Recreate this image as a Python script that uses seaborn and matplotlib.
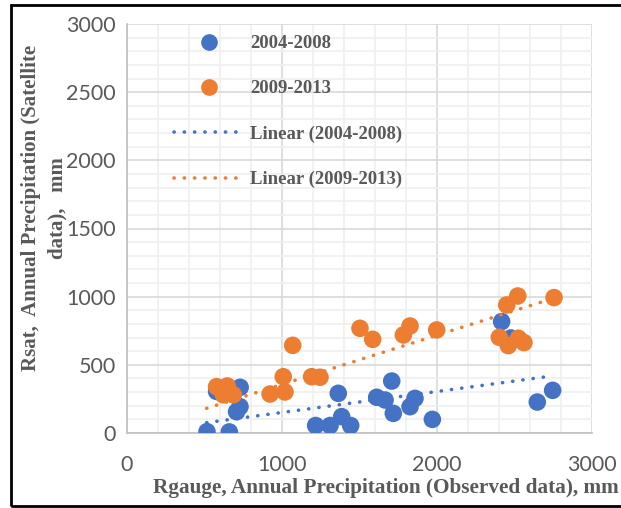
import numpy as np
import pandas as pd
import matplotlib
matplotlib.use("Agg")
import matplotlib.pyplot as plt
import seaborn as sns
from matplotlib.lines import Line2D
from matplotlib.patches import Rectangle
from matplotlib.ticker import MultipleLocator

# 2004-2008 (blue)
gauge_0408 = [516, 660, 578, 730, 729, 707, 1217, 1310, 1385, 1443, 1363,
              1708, 1611, 1665, 1718, 1826, 1858, 1970, 2417, 2477, 2647, 2746]
sat_0408 = [10, 8, 305, 335, 193, 156, 55, 55, 120, 55, 291,
            381, 262, 242, 144, 193, 254, 100, 817, 697, 227, 313]
# 2009-2013 (orange)
gauge_0913 = [578, 647, 622, 686, 660, 923, 1008, 1019, 1069, 1191, 1245,
              1503, 1585, 1783, 1826, 1998, 2402, 2450, 2460, 2521, 2525, 2561, 2755]
sat_0913 = [340, 345, 280, 280, 300, 286, 413, 301, 643, 413, 409,
            768, 687, 719, 785, 756, 702, 939, 641, 1005, 695, 663, 993]

# linear trend lines (start / end)
trend_x_0408 = [514, 2740]
trend_y_0408 = [76, 418]
trend_x_0913 = [514, 2703]
trend_y_0913 = [181, 971]

periods = ["2004-2008", "2009-2013"]
colors = {"2004-2008": "#4472C4", "2009-2013": "#ED7D31"}

df = pd.concat([
    pd.DataFrame({"Rgauge": gauge_0408, "Rsat": sat_0408, "Period": periods[0]}),
    pd.DataFrame({"Rgauge": gauge_0913, "Rsat": sat_0913, "Period": periods[1]}),
])
trend = pd.concat([
    pd.DataFrame({"Rgauge": trend_x_0408, "Rsat": trend_y_0408, "Period": periods[0]}),
    pd.DataFrame({"Rgauge": trend_x_0913, "Rsat": trend_y_0913, "Period": periods[1]}),
])

sns.set_style("white")
W, H = 621, 508
fig = plt.figure(figsize=(W / 100, H / 100), dpi=100)
ax = fig.add_axes([127 / W, 1 - 433 / H, (592 - 127) / W, (433 - 24) / H])

grey = "#595959"
dots = (0, (0.05, 2.8))
ax.xaxis.set_major_locator(MultipleLocator(1000))
ax.xaxis.set_minor_locator(MultipleLocator(200))
ax.yaxis.set_major_locator(MultipleLocator(500))
ax.yaxis.set_minor_locator(MultipleLocator(100))
ax.grid(which="minor", color="#EFEFEF", lw=1.2, zorder=0)
ax.grid(which="major", color="#D9D9D9", lw=1.2, zorder=0)
ax.set_axisbelow(True)

sns.scatterplot(data=df, x="Rgauge", y="Rsat", hue="Period", palette=colors,
                s=160, edgecolor="none", alpha=1, ax=ax, legend=False, zorder=3)
sns.lineplot(data=trend, x="Rgauge", y="Rsat", hue="Period", palette=colors,
             lw=2.6, linestyle=dots, dash_capstyle="round", ax=ax, legend=False,
             zorder=4, estimator=None, sort=False)

ax.set_xlim(0, 3000)
ax.set_ylim(0, 3000)
for s in ["top", "right"]:
    ax.spines[s].set_visible(False)
for s in ["left", "bottom"]:
    ax.spines[s].set_color("#BFBFBF")
    ax.spines[s].set_linewidth(1.2)
ax.tick_params(which="major", length=5, width=1.2, color="#BFBFBF", direction="out",
               labelsize=15.5, labelcolor=grey, pad=3)
ax.tick_params(which="minor", length=0)
for lab in ax.get_xticklabels() + ax.get_yticklabels():
    lab.set_fontfamily("Lato")
ax.tick_params(axis="x", pad=11)
ax.set_xlabel("")
ax.set_ylabel("")

fig.text(386 / W, 1 - 488 / H, "Rgauge, Annual Precipitation (Observed data), mm",
         ha="center", va="center", fontsize=15.3, fontweight="bold",
         family="Liberation Serif", color=grey)
fig.text(44 / W, 1 - 208 / H, "Rsat,  Annual Precipitation (Satellite\ndata),   mm",
         ha="center", va="center", rotation=90, multialignment="center",
         fontsize=15, fontweight="bold", family="Liberation Serif", color=grey,
         linespacing=1.4)

handles = [
    Line2D([], [], ls="none", marker="o", ms=11, color=colors[periods[0]]),
    Line2D([], [], ls="none", marker="o", ms=11, color=colors[periods[1]]),
    Line2D([], [], color=colors[periods[0]], lw=2.6, linestyle=dots,
           dash_capstyle="round"),
    Line2D([], [], color=colors[periods[1]], lw=2.6, linestyle=dots,
           dash_capstyle="round"),
]
labels = periods + ["Linear (2004-2008)", "Linear (2009-2013)"]
fig.legend(handles, labels, loc="upper left", bbox_to_anchor=(174 / W, 1 - 35 / H),
           frameon=False, handlelength=3.75, handletextpad=0.32, labelspacing=1.5,
           borderpad=0, borderaxespad=0,
           prop=dict(family="Liberation Serif", weight="bold", size=13.5),
           labelcolor=grey)

fig.add_artist(Rectangle((11 / W, 1 - 506 / H), 700 / W, 501 / H,
                         transform=fig.transFigure, fill=False, ec="black", lw=2))

fig.savefig("out.png", dpi=100)
